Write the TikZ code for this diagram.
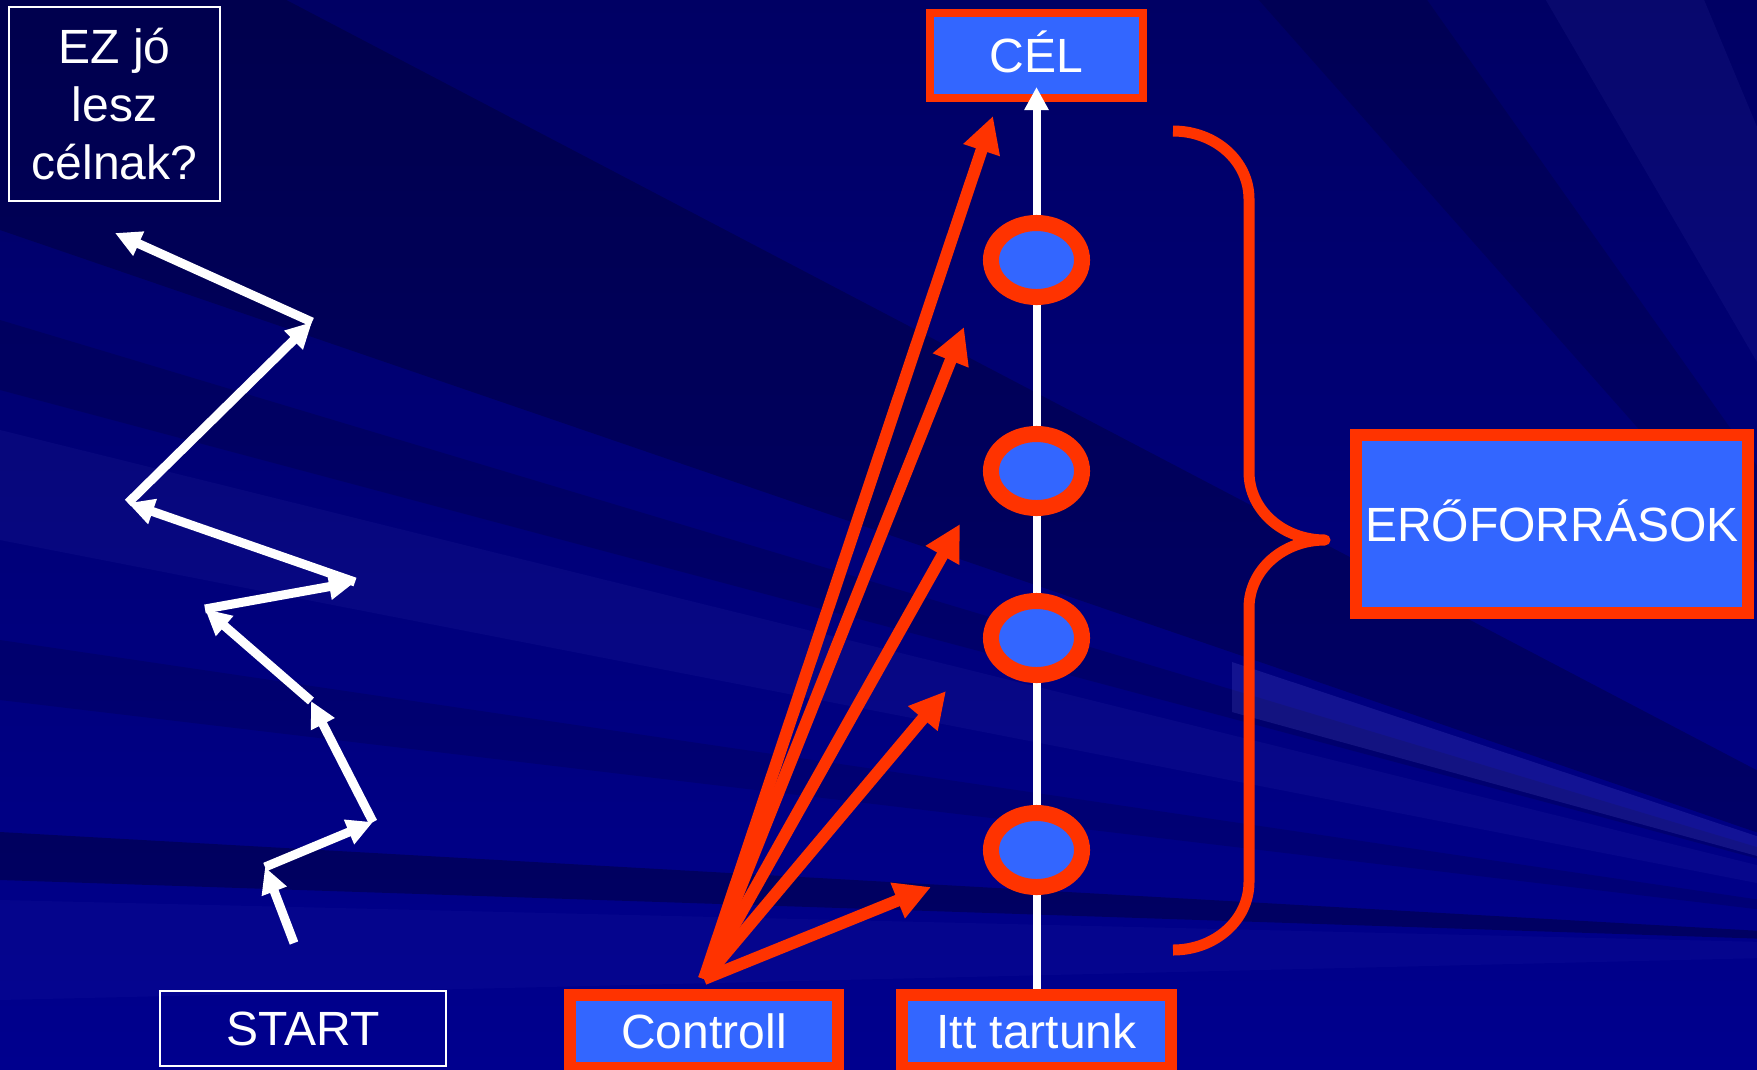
\documentclass[tikz,border=0pt]{standalone}
\usepackage{fontspec}
\setmainfont{Liberation Sans}
\usetikzlibrary{arrows.meta,shapes.geometric}
\definecolor{bgtop}{RGB}{0,0,100}
\definecolor{bgbottom}{RGB}{0,0,142}
\definecolor{slidered}{RGB}{255,51,0}
\definecolor{slideblue}{RGB}{51,102,255}
\tikzset{
  labeltext/.style={text=white, font=\fontsize{13.66pt}{16.5pt}\selectfont},
  redbox/.style={labeltext, draw=slidered, fill=slideblue, line width=0.12cm, inner sep=0pt, text height=0.344cm, text depth=0pt},
  whitebox/.style={labeltext, draw=white, line width=0.02cm, inner sep=0pt},
  ring/.style={ellipse, draw=slidered, fill=slideblue, line width=0.16cm, minimum width=0.91cm, minimum height=0.74cm, inner sep=0pt},
  redarrow/.style={draw=slidered, line width=0.12cm, -{Triangle[length=0.36cm,width=0.36cm]}},
  walk/.style={draw=white, line width=0.09cm, -{Triangle[length=0.26cm,width=0.25cm]}},
  streak/.style={fill=black, opacity=#1},
  glow/.style={fill=blue!45!white, opacity=#1},
}
\begin{document}
\begin{tikzpicture}[x=0.01cm, y=-0.01cm]
  \useasboundingbox (0,0) rectangle (1757,1069);
  \clip (0,0) rectangle (1757,1069);
  \shade[top color=bgtop, bottom color=bgbottom] (0,0) rectangle (1757,1069);
  \coordinate (F) at (2100,950);
  \fill[streak=0.22] (F) -- (0,-150) -- (0,230) -- cycle;
  \fill[streak=0.15] (F) -- (0,320) -- (0,390) -- cycle;
  \fill[glow=0.05] (F) -- (0,430) -- (0,540) -- cycle;
  \fill[streak=0.12] (F) -- (0,640) -- (0,700) -- cycle;
  \fill[streak=0.28] (F) -- (0,832) -- (0,880) -- cycle;
  \fill[glow=0.04] (F) -- (0,900) -- (0,1000) -- cycle;
  \fill[streak=0.15] (F) -- (1250,-10) -- (1420,-10) -- cycle;
  \fill[glow=0.06] (F) -- (1540,-10) -- (1700,-10) -- cycle;
  \fill[glow=0.14] (F) -- (1232,662) -- (1232,712) -- cycle;

  \node[whitebox, align=center, minimum width=2.11cm, minimum height=1.94cm] (ask) at (114.5,104) {EZ jó\\lesz\\célnak?};
  \node[whitebox, minimum width=2.86cm, minimum height=0.75cm, text height=0.344cm, text depth=0pt] (start) at (303,1028.5) {START};
  \node[redbox, minimum width=2.68cm, minimum height=0.73cm] (ctrl) at (704,1031.5) {Controll};
  \node[redbox, minimum width=2.69cm, minimum height=0.73cm] (itt) at (1036.5,1031.5) {Itt tartunk};
  \node[redbox, line width=0.08cm, minimum width=2.12cm, minimum height=0.85cm] (cel) at (1036.5,55.5) {CÉL};
  \node[redbox, minimum width=3.92cm, minimum height=1.78cm] (eroforras) at (1552,524) {ERŐFORRÁSOK};

  \draw[white, line width=0.08cm, -{Triangle[length=0.23cm,width=0.23cm]}] (itt.north) -- ([yshift=0.15cm]cel.south);
  \node[ring] (r1) at (1036.5,260) {};
  \node[ring] (r2) at (1036.5,471) {};
  \node[ring] (r3) at (1036.5,638) {};
  \node[ring] (r4) at (1036.5,850) {};

  \coordinate (src) at (704,979);
  \coordinate (t1) at (993,116);
  \coordinate (t2) at (964,327);
  \coordinate (t3) at (960,524);
  \coordinate (t4) at (946,691);
  \coordinate (t5) at (931,887);
  \draw[redarrow] (src) -- (t1);
  \draw[redarrow] (src) -- (t2);
  \draw[redarrow] (src) -- (t3);
  \draw[redarrow] (src) -- (t4);
  \draw[redarrow] (src) -- (t5);

  \coordinate (w0) at (294,943);
  \coordinate (w1) at (265,867);
  \coordinate (w2) at (373,822);
  \coordinate (w3) at (311,701);
  \coordinate (w4) at (205,609);
  \coordinate (w5) at (355,582);
  \coordinate (w6) at (128,503);
  \coordinate (w7) at (312,322);
  \coordinate (w8) at (115,233);
  \draw[walk] (w0) -- (w1);
  \draw[walk] (w1) -- (w2);
  \draw[walk] (w2) -- (w3);
  \draw[walk] (w3) -- (w4);
  \draw[walk] (w4) -- (w5);
  \draw[walk] (w5) -- (w6);
  \draw[walk] (w6) -- (w7);
  \draw[walk] (w7) -- (w8);

  \draw[slidered, line width=0.11cm, line join=round] (1173,131) .. controls (1215,131) and (1249,161) .. (1249,199) -- (1249,472)
    .. controls (1249,510) and (1283,540) .. (1325,540) .. controls (1283,540) and (1249,570) .. (1249,608) -- (1249,882)
    .. controls (1249,920) and (1215,950) .. (1173,950);
\end{tikzpicture}
\end{document}
